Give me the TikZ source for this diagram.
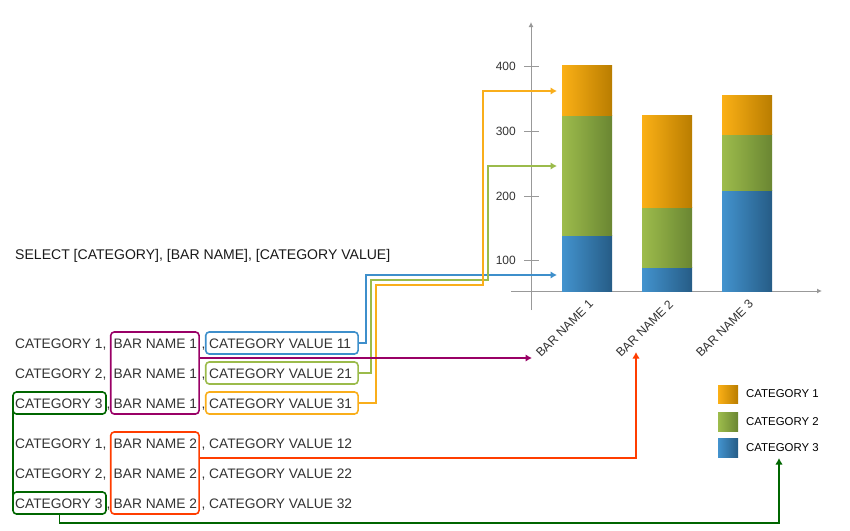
\documentclass[tikz,border=0pt]{standalone}
\usepackage{fontspec}
\setmainfont{Liberation Sans}
\usetikzlibrary{arrows.meta,calc}
\definecolor{txtgray}{HTML}{333333}
\definecolor{axgray}{HTML}{999999}
\definecolor{oL}{HTML}{FBB016}
\definecolor{oR}{HTML}{B97D00}
\definecolor{gL}{HTML}{9DBC4C}
\definecolor{gR}{HTML}{6A8632}
\definecolor{bL}{HTML}{4393CE}
\definecolor{bR}{HTML}{265C86}
\definecolor{corange}{HTML}{F9AE1B}
\definecolor{cgreen}{HTML}{9BBB4B}
\definecolor{cblue}{HTML}{3E8FCB}
\definecolor{cpurple}{HTML}{990066}
\definecolor{cred}{HTML}{FF3D00}
\definecolor{cdgreen}{HTML}{006600}
\begin{document}
\begin{tikzpicture}[x=1pt,y=-1pt,
  row/.style={font=\fontsize{13.75}{16}\selectfont, text=txtgray, inner sep=0pt, anchor=base west},
  hbox/.style={draw, rounded corners=3.5pt, line width=1.6pt, inner sep=0pt},
  conn/.style={line width=1.8pt, -{Latex[length=6.5pt,width=7.5pt]}},
  link/.style={line width=1.8pt},
  axis/.style={draw=axgray, line width=1pt},
  ticklab/.style={font=\fontsize{12}{14}\selectfont, text=txtgray, inner sep=0pt, anchor=east},
  barlab/.style={font=\fontsize{12.3}{14}\selectfont, text=txtgray, inner sep=0pt, rotate=45, anchor=east},
  leglab/.style={font=\fontsize{11.4}{13}\selectfont, text=black, inner sep=0pt, anchor=west}]
\path[use as bounding box] (0,0) rectangle (850,530);

% axes
\draw[axis, -{Latex[length=5pt,width=5pt]}] (531,310) -- (531,22);
\draw[axis, -{Latex[length=5pt,width=5pt]}] (511,291) -- (822,291);
\foreach \y/\l in {66.7/400,131/300,196/200,260/100}{
  \draw[axis] (524,\y) -- (539,\y);
  \node[ticklab] (t\l) at (516,\y) {\l};
}

% bars
\shade[left color=bL,right color=bR] (562,235) rectangle (612,291);
\shade[left color=gL,right color=gR] (562,115) rectangle (612,235);
\shade[left color=oL,right color=oR] (562,65) rectangle (612,115);
\shade[left color=bL,right color=bR] (642,267) rectangle (692,291);
\shade[left color=gL,right color=gR] (642,207) rectangle (692,267);
\shade[left color=oL,right color=oR] (642,115) rectangle (692,207);
\shade[left color=bL,right color=bR] (722,190) rectangle (772,291);
\shade[left color=gL,right color=gR] (722,134) rectangle (772,190);
\shade[left color=oL,right color=oR] (722,95) rectangle (772,134);

% bar labels
\node[barlab] (lb1) at (591,302) {BAR NAME 1};
\node[barlab] (lb2) at (671,302) {BAR NAME 2};
\node[barlab] (lb3) at (751,302) {BAR NAME 3};

% legend
\shade[left color=oL,right color=oR] (718,385) rectangle (738,403);
\shade[left color=gL,right color=gR] (718,412) rectangle (738,431);
\shade[left color=bL,right color=bR] (718,438) rectangle (738,457);
\node[leglab] (lg1) at (746,394) {CATEGORY 1};
\node[leglab] (lg2) at (746,421.5) {CATEGORY 2};
\node[leglab] (lg3) at (746,447.5) {CATEGORY 3};

% select text
\node[row, text=black!90, font=\fontsize{14.05}{16}\selectfont] (sel) at (15,259) {SELECT [CATEGORY], [BAR NAME], [CATEGORY VALUE]};

% rows
\foreach \b/\c/\n/\v in {348/1/1/11,378/2/1/21,408/3/1/31,448/1/2/12,478/2/2/22,508/3/2/32}{
  \node[row] (c\v) at (15,\b) {CATEGORY \c\ifnum\c<3,\fi};
  \node[row] (n\v) at (113.5,\b) {BAR NAME \n};
  \node[row] (m\v) at (201.5,\b) {,};
  \node[row] (v\v) at (209,\b) {CATEGORY VALUE \v};
}
\node[row] (ca) at (106.5,408) {,};
\node[row] (cb) at (106.5,508) {,};

% boxes
\node[hbox, draw=cpurple, minimum width=88.3pt, minimum height=82pt] (bn1) at (154.9,373) {};
\node[hbox, draw=cred, minimum width=88.3pt, minimum height=82pt] (bn2) at (154.9,473) {};
\node[hbox, draw=cblue, minimum width=152.3pt, minimum height=22pt] (bv11) at (281.9,343) {};
\node[hbox, draw=cgreen, minimum width=152.3pt, minimum height=22pt] (bv21) at (281.9,373) {};
\node[hbox, draw=corange, minimum width=152.3pt, minimum height=22pt] (bv31) at (281.9,403) {};
\node[hbox, draw=cdgreen, minimum width=93pt, minimum height=22pt] (bc3a) at (59.5,403) {};
\node[hbox, draw=cdgreen, minimum width=93pt, minimum height=22pt] (bc3b) at (59.5,503) {};

% arrow targets
\coordinate (tipO) at (557,91);
\coordinate (tipG) at (557,166);
\coordinate (tipB) at (557,275);
\coordinate (tipP) at (532,358);
\coordinate (tipR) at (636,352);
\coordinate (tipD) at (779,458);

% connectors
\draw[conn, draw=cblue] (bv11.east) -| (366,275) -- (tipB);
\draw[conn, draw=cgreen] (bv21.east) -| (371,280) -| (488,166) -- (tipG);
\draw[conn, draw=corange] (bv31.east) -| (376,285) -| (483,91) -- (tipO);
\draw[conn, draw=cpurple] ($(bn1.east)+(0,-15)$) -- (tipP);
\draw[conn, draw=cred] ($(bn2.east)+(0,-15)$) -| (tipR);
\draw[link, draw=cdgreen] ($(bc3a.south west)+(0.8,-4)$) -- ($(bc3b.north west)+(0.8,4)$);
\draw[conn, draw=cdgreen] (bc3b.south) -- (59.5,523) -| (tipD);
\end{tikzpicture}
\end{document}
